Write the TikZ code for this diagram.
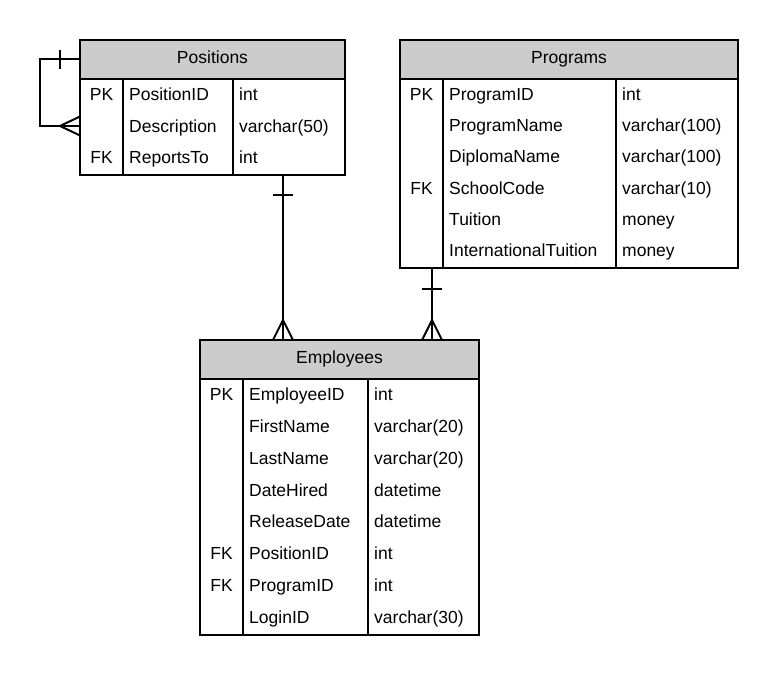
\documentclass[tikz,border=0pt]{standalone}
\usepackage{fontspec}
\setmainfont{Liberation Sans}
\usetikzlibrary{positioning}

\definecolor{headgray}{HTML}{CCCCCC}

\tikzset{
    tbl/.style={draw, line width=2pt, outer sep=0pt, inner sep=0pt},
    tblhead/.style={tbl, fill=headgray, minimum height=39pt, text height=12.5pt, text depth=4pt, font=\fontsize{17.5}{21}\selectfont},
    tblbody/.style={tbl, fill=white},
    cell/.style={inner sep=0pt, text height=12.5pt, text depth=0pt, font=\fontsize{17.5}{21}\selectfont},
    keycell/.style={cell, anchor=center},
    namecell/.style={cell, anchor=west},
    rel/.style={line width=2pt},
}

\begin{document}
\begin{tikzpicture}[x=1pt, y=-1pt]
    \useasboundingbox (0,0) rectangle (778,676);

    % Positions table
    \node[tblhead, minimum width=265pt] (poshead) at (212.5,59.5) {Positions};
    \node[tblbody, minimum width=265pt, minimum height=96pt, below=0pt of poshead] (posbody) {};
    \draw[rel] ([xshift=43pt]posbody.north west) -- ([xshift=43pt]posbody.south west);
    \draw[rel] ([xshift=153pt]posbody.north west) -- ([xshift=153pt]posbody.south west);
    \foreach \k/\f/\t [count=\i] in {PK/PositionID/int, /Description/varchar(50), FK/ReportsTo/int} {
        \node[keycell] (pos-k\i) at (101.5, {94.5+31.5*(\i-1)}) {\k};
        \node[namecell] (pos-f\i) at (129, {94.5+31.5*(\i-1)}) {\f};
        \node[namecell] (pos-t\i) at (239, {94.5+31.5*(\i-1)}) {\t};
    }

    % Programs table
    \node[tblhead, minimum width=338pt] (proghead) at (569,59.5) {Programs};
    \node[tblbody, minimum width=338pt, minimum height=189pt, below=0pt of proghead] (progbody) {};
    \draw[rel] ([xshift=43pt]progbody.north west) -- ([xshift=43pt]progbody.south west);
    \draw[rel] ([xshift=216pt]progbody.north west) -- ([xshift=216pt]progbody.south west);
    \foreach \k/\f/\t [count=\i] in {PK/ProgramID/int, /ProgramName/varchar(100), /DiplomaName/varchar(100),
        FK/SchoolCode/varchar(10), /Tuition/money, /InternationalTuition/money} {
        \node[keycell] (prog-k\i) at (421.5, {94+31.3*(\i-1)}) {\k};
        \node[namecell] (prog-f\i) at (449, {94+31.3*(\i-1)}) {\f};
        \node[namecell] (prog-t\i) at (622, {94+31.3*(\i-1)}) {\t};
    }

    % Employees table
    \node[tblhead, minimum width=279pt] (emphead) at (339.5,359.5) {Employees};
    \node[tblbody, minimum width=279pt, minimum height=256pt, below=0pt of emphead] (empbody) {};
    \draw[rel] ([xshift=43pt]empbody.north west) -- ([xshift=43pt]empbody.south west);
    \draw[rel] ([xshift=168pt]empbody.north west) -- ([xshift=168pt]empbody.south west);
    \foreach \k/\f/\t [count=\i] in {PK/EmployeeID/int, /FirstName/varchar(20), /LastName/varchar(20),
        /DateHired/datetime, /ReleaseDate/datetime, FK/PositionID/int, FK/ProgramID/int, /LoginID/varchar(30)} {
        \node[keycell] (emp-k\i) at (221.5, {394.5+31.8*(\i-1)}) {\k};
        \node[namecell] (emp-f\i) at (249, {394.5+31.8*(\i-1)}) {\f};
        \node[namecell] (emp-t\i) at (374, {394.5+31.8*(\i-1)}) {\t};
    }

    % Positions -> Employees
    \coordinate (pe-top) at ([xshift=70.5pt]posbody.south);
    \coordinate (pe-bot) at (pe-top |- emphead.north);
    \draw[rel] (pe-top) -- (pe-bot);
    \draw[rel] ([xshift=-10pt,yshift=-20pt]pe-top) -- ([xshift=10pt,yshift=-20pt]pe-top);
    \draw[rel] ([xshift=-10pt]pe-bot) -- ([yshift=20pt]pe-bot) -- ([xshift=10pt]pe-bot);

    % Programs -> Employees
    \coordinate (pr-top) at ([xshift=-137pt]progbody.south);
    \coordinate (pr-bot) at (pr-top |- emphead.north);
    \draw[rel] (pr-top) -- (pr-bot);
    \draw[rel] ([xshift=-10pt,yshift=-21pt]pr-top) -- ([xshift=10pt,yshift=-21pt]pr-top);
    \draw[rel] ([xshift=-10pt]pr-bot) -- ([yshift=20pt]pr-bot) -- ([xshift=10pt]pr-bot);

    % ReportsTo self loop
    \coordinate (loop-in) at (posbody.west |- pos-f2);
    \draw[rel] (poshead.west) -- ++(-40,0) |- (loop-in);
    \draw[rel] ([xshift=-20pt,yshift=9.5pt]poshead.west) -- ([xshift=-20pt,yshift=-9.5pt]poshead.west);
    \draw[rel] ([yshift=9.5pt]loop-in) -- ([xshift=-20pt]loop-in) -- ([yshift=-9.5pt]loop-in);
\end{tikzpicture}
\end{document}
